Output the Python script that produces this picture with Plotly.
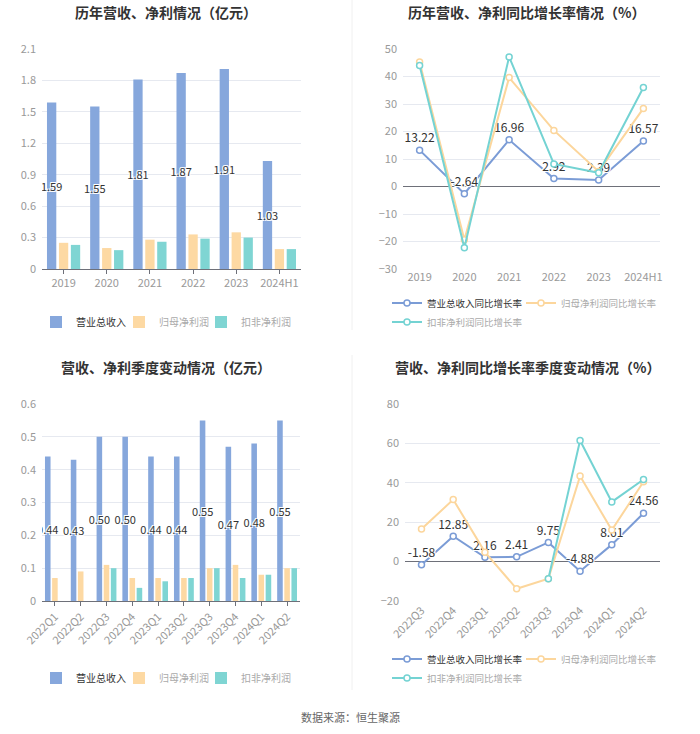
import plotly.graph_objects as go

# ---------------- data ----------------
years = ["2019", "2020", "2021", "2022", "2023", "2024H1"]
rev_y = [1.59, 1.55, 1.81, 1.87, 1.91, 1.03]
np_y = [0.25, 0.20, 0.28, 0.33, 0.35, 0.19]
kf_y = [0.23, 0.18, 0.26, 0.29, 0.30, 0.19]

rev_g = [13.22, -2.64, 16.96, 2.92, 2.39, 16.57]
np_g = [45.3, -19.4, 39.6, 20.4, 5.5, 28.4]
kf_g = [44.0, -22.3, 47.1, 8.2, 5.0, 36.0]

quarters = ["2022Q1", "2022Q2", "2022Q3", "2022Q4", "2023Q1",
            "2023Q2", "2023Q3", "2023Q4", "2024Q1", "2024Q2"]
rev_q = [0.44, 0.43, 0.50, 0.50, 0.44, 0.44, 0.55, 0.47, 0.48, 0.55]
np_q = [0.07, 0.09, 0.11, 0.07, 0.07, 0.07, 0.10, 0.11, 0.08, 0.10]
kf_q = [None, None, 0.10, 0.04, 0.06, 0.07, 0.10, 0.07, 0.08, 0.10]

gq = ["2022Q3", "2022Q4", "2023Q1", "2023Q2", "2023Q3", "2023Q4", "2024Q1", "2024Q2"]
rev_gq = [-1.58, 12.85, 2.16, 2.41, 9.75, -4.88, 8.61, 24.56]
np_gq = [16.5, 31.5, 4.8, -13.8, -8.7, 43.4, 16.0, 40.5]
kf_gq = [None, None, None, None, -8.7, 61.5, 30.3, 41.7]

titles = ["历年营收、净利情况（亿元）", "历年营收、净利同比增长率情况（%）",
          "营收、净利季度变动情况（亿元）", "营收、净利同比增长率季度变动情况（%）"]
bar_names = ["营业总收入", "归母净利润", "扣非净利润"]
line_names = ["营业总收入同比增长率", "归母净利润同比增长率", "扣非净利润同比增长率"]
source = "数据来源：恒生聚源"

# ---------------- style ----------------
W, H = 700, 734
C_BLUE_BAR = "#86a7dc"
C_ORANGE_BAR = "#fdd9a3"
C_TEAL_BAR = "#7fd5d3"
C_BLUE = "#7b9cd6"
C_ORANGE = "#fcd69c"
C_TEAL = "#74d3d3"
GRID = "#e6e9f0"
TICK = "#999999"
FONT = "Noto Sans CJK SC, Noto Sans, sans-serif"
HALO = "1px 1px 0 #fff, -1px -1px 0 #fff, 1px -1px 0 #fff, -1px 1px 0 #fff"
LABEL_SIZE = 11


def px(x):
    return x / W


def py(y):
    return 1 - y / H


def leg_name(name, color):
    return f"<span style='color:{color}'>{name}</span>"


leg_cols = ["#333333", "#aaaaaa", "#aaaaaa"]
bar_colors = [C_BLUE_BAR, C_ORANGE_BAR, C_TEAL_BAR]
line_colors = [C_BLUE, C_ORANGE, C_TEAL]

# legend ids per panel / series
leg_ids = {1: ["legend", "legend2", "legend3"],
           2: ["legend4", "legend5", "legend6"],
           3: ["legend7", "legend8", "legend9"],
           4: ["legend10", "legend11", "legend12"]}

fig = go.Figure()


def add_bars(cats, series, xa, ya, panel):
    for i, (vals, col) in enumerate(zip(series, bar_colors)):
        fig.add_trace(go.Bar(
            x=cats, y=vals, name=leg_name(bar_names[i], leg_cols[i]),
            marker=dict(color=col, line=dict(width=0)),
            xaxis=xa, yaxis=ya, legend=leg_ids[panel][i],
            text=[f"{v:.2f}" for v in vals] if i == 0 else None,
            textposition="inside" if i == 0 else "none",
            insidetextanchor="middle", constraintext="none", textangle=0,
            textfont=dict(size=LABEL_SIZE, color="#333333", shadow=HALO),
            hoverinfo="skip",
        ))


def add_lines(cats, series, xa, ya, panel):
    for i, (vals, col) in enumerate(zip(series, line_colors)):
        fig.add_trace(go.Scatter(
            x=cats, y=vals, name=leg_name(line_names[i], leg_cols[i]),
            mode="lines+markers+text" if i == 0 else "lines+markers",
            line=dict(color=col, width=2),
            marker=dict(symbol="circle", size=6, color="white", line=dict(color=col, width=1.5)),
            text=[f"{v:.2f}" for v in vals] if i == 0 else None,
            textposition="top center",
            textfont=dict(size=LABEL_SIZE + 1, color="#333333", shadow=HALO),
            cliponaxis=False,
            xaxis=xa, yaxis=ya, legend=leg_ids[panel][i],
            hoverinfo="skip",
        ))


add_bars(years, [rev_y, np_y, kf_y], "x", "y", 1)
add_lines(years, [rev_g, np_g, kf_g], "x2", "y2", 2)
add_bars(quarters, [rev_q, np_q, kf_q], "x3", "y3", 3)
add_lines(gq, [rev_gq, np_gq, kf_gq], "x4", "y4", 4)


# ---------------- axes ----------------
def xax(domain, anchor, angle=0, zero_axis=False):
    return dict(domain=domain, anchor=anchor, type="category",
                showline=not zero_axis, linecolor="#6e7079", linewidth=1,
                ticks="" if zero_axis else "outside", ticklen=4, tickcolor="#6e7079",
                tickfont=dict(size=11, color=TICK), tickangle=angle,
                showgrid=False, fixedrange=True, automargin=False)


def yax(domain, anchor, rng, dtick, zero=False):
    return dict(domain=domain, anchor=anchor, range=rng, dtick=dtick,
                showline=False, ticks="", tickfont=dict(size=11, color=TICK),
                ticklabelstandoff=5,
                gridcolor=GRID, gridwidth=1,
                zeroline=zero, zerolinecolor="#6e7079", zerolinewidth=1,
                fixedrange=True, automargin=False)


top_dom = [py(269), py(49)]
bot_dom = [py(601), py(404)]

fig.update_layout(
    width=W, height=H,
    margin=dict(l=0, r=0, t=0, b=0, autoexpand=False),
    paper_bgcolor="white", plot_bgcolor="white",
    font=dict(family=FONT, size=11, color="#333333"),
    barmode="group", bargap=0.17, bargroupgap=0.22,
    showlegend=True,
    xaxis=xax([px(42), px(301)], "y"),
    yaxis=yax(top_dom, "x", [0, 2.1], 0.3),
    xaxis2=xax([px(403), px(660)], "y2", zero_axis=True),
    yaxis2=yax(top_dom, "x2", [-30, 50], 10, zero=True),
    xaxis3=xax([px(42), px(300)], "y3", angle=-45),
    yaxis3=yax(bot_dom, "x3", [0, 0.6], 0.1),
    xaxis4=xax([px(405), px(660)], "y4", angle=-45, zero_axis=True),
    yaxis4=yax(bot_dom, "x4", [-20, 80], 20, zero=True),
)

# legend placement (item start x, offset y) -- one legend per entry
bar_leg_pos = [(36, 0), (119, 0), (201, 0)]
line_leg_pos = [(387, 0), (521, 0), (387, 19)]
leg_layout = {}
for panel, base_y, kind in [(1, 322, "bar"), (2, 303, "line"), (3, 678, "bar"), (4, 659, "line")]:
    pos = bar_leg_pos if kind == "bar" else line_leg_pos
    fsize = 10 if kind == "bar" else 9.5
    for lid, (lx, dy) in zip(leg_ids[panel], pos):
        leg_layout[lid] = dict(x=px(lx), xanchor="left", y=py(base_y + dy), yanchor="middle",
                               orientation="h", font=dict(size=fsize, family=FONT),
                               bgcolor="rgba(0,0,0,0)", borderwidth=0, itemwidth=30,
                               itemclick=False, itemdoubleclick=False)
fig.update_layout(**leg_layout)

# ---------------- titles / footer ----------------
title_pos = [(166, 12), (526, 12), (166, 367), (527, 367)]
for t, (tx, ty) in zip(titles, title_pos):
    fig.add_annotation(text=f"<b>{t}</b>", x=px(tx), y=py(ty), xref="paper", yref="paper",
                       xanchor="center", yanchor="middle", showarrow=False,
                       font=dict(size=14, color="#333333", family=FONT))
fig.add_annotation(text=source, x=px(350), y=py(717), xref="paper", yref="paper",
                   xanchor="center", yanchor="middle", showarrow=False,
                   font=dict(size=11, color="#666666", family=FONT))

# faint vertical divider
fig.add_shape(type="line", xref="paper", yref="paper", x0=px(352), x1=px(352),
              y0=1, y1=py(330), line=dict(color="#f0f0f0", width=1))
fig.add_shape(type="line", xref="paper", yref="paper", x0=px(352), x1=px(352),
              y0=py(355), y1=py(690), line=dict(color="#f0f0f0", width=1))

fig.write_html("out.html", config={"displayModeBar": False},
               post_script="document.body.style.margin='0px';document.body.style.overflow='hidden';")
